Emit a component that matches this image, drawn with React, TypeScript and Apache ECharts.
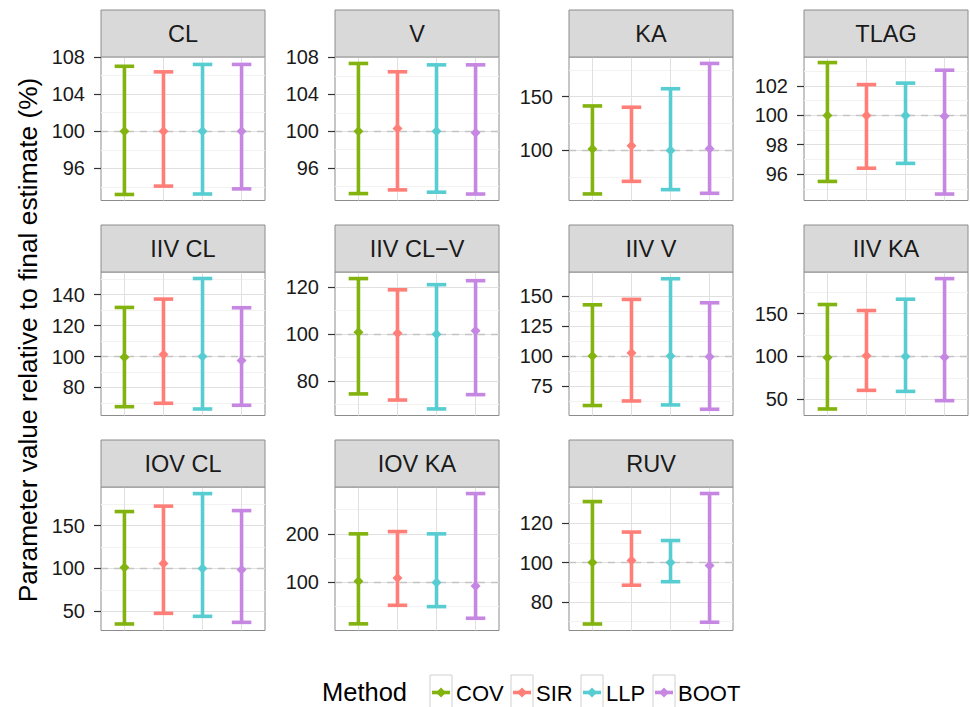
import React, { useEffect, useRef } from "react";
import * as echarts from "echarts";

const methods = ["COV", "SIR", "LLP", "BOOT"];
const methodColors = ["#82B30F", "#FF7F78", "#57CDD2", "#C687E2"];

const panels = ["CL", "V", "KA", "TLAG", "IIV CL", "IIV CL−V", "IIV V", "IIV KA", "IOV CL", "IOV KA", "RUV"];

// order within each row: COV, SIR, LLP, BOOT
const estimates = [
  [100, 100, 100, 100],
  [100, 100.3, 100, 99.85],
  [101.3, 104.4, 100, 101.6],
  [100, 100, 100, 99.95],
  [99.6, 101.3, 100, 97.4],
  [100.85, 100.4, 100, 101.4],
  [100, 102.5, 100, 99.2],
  [98.8, 100.8, 100, 99.2],
  [101.2, 105.8, 100, 98.5],
  [102.1, 109, 100, 92.6],
  [100, 101, 100, 98.5],
];
const lowers = [
  [93.2, 94.1, 93.25, 93.8],
  [93.25, 93.65, 93.4, 93.2],
  [59.6, 71.3, 63.6, 60.2],
  [95.5, 96.4, 96.73, 94.64],
  [67.6, 69.8, 66.1, 68.5],
  [74.5, 71.9, 68.1, 74.2],
  [58.7, 62.5, 59.2, 55.6],
  [38.8, 60.5, 59.3, 48.5],
  [35.3, 47.7, 44.2, 37.2],
  [14.6, 52.8, 50.1, 26.1],
  [68.8, 88.5, 90.3, 69.7],
];
const uppers = [
  [107.0, 106.4, 107.2, 107.2],
  [107.35, 106.45, 107.2, 107.2],
  [141.4, 140.2, 157.4, 180.9],
  [103.6, 102.1, 102.2, 103.08],
  [131.7, 137.1, 150.4, 131.5],
  [123.7, 118.9, 121.1, 122.8],
  [142.5, 147, 164.2, 144.2],
  [160.5, 153.5, 166.7, 190.7],
  [166.3, 172.6, 187.2, 167.4],
  [200, 204.7, 200, 283],
  [131, 115.5, 111.2, 135.1],
];

const yMins = [92.55, 92.5, 53.5, 94.2, 61.9, 65.3, 50.4, 31.2, 27.7, 0.9, 65.5];
const yMaxs = [108.0, 108.05, 186.9, 103.98, 154.6, 126.5, 169.8, 198.4, 194.9, 296.5, 138.4];
const yTicks = [
  [96, 100, 104, 108],
  [96, 100, 104, 108],
  [100, 150],
  [96, 98, 100, 102],
  [80, 100, 120, 140],
  [80, 100, 120],
  [75, 100, 125, 150],
  [50, 100, 150],
  [50, 100, 150],
  [100, 200],
  [80, 100, 120],
];
const yMinorTicks = [
  [94, 98, 102, 106],
  [94, 98, 102, 106],
  [75, 125, 175],
  [95, 97, 99, 101, 103],
  [70, 90, 110, 130, 150],
  [70, 90, 110],
  [62.5, 87.5, 112.5, 137.5],
  [75, 125, 175],
  [75, 125, 175],
  [50, 150, 250],
  [70, 90, 110, 130],
];
const xPositions = [1, 2, 3, 4];
const referenceValue = 100;

const yTitle = "Parameter value relative to final estimate (%)";
const legendTitle = "Method";

const FONT = "'Liberation Sans', Arial, Helvetica, sans-serif";
const colLefts = [101, 335, 569, 804];
const plotTops = [57, 272, 487];
const panelW = 164;
const panelH = 143.5;
const stripH = 47;
const legendBoxX = [430, 511, 581, 653];
const legendTextX = [456, 536, 606, 678];

export default function App() {
  const ref = useRef<HTMLDivElement>(null);
  useEffect(() => {
    if (!ref.current) return;
    const chart = echarts.init(ref.current, null, { renderer: "svg" });
    const grids: any[] = [];
    const xAxes: any[] = [];
    const yAxes: any[] = [];
    const series: any[] = [];
    const graphics: any[] = [];

    panels.forEach((name, i) => {
      const col = i % 4;
      const row = Math.floor(i / 4);
      const left = colLefts[col];
      const top = plotTops[row];
      grids.push({
        left,
        top,
        width: panelW,
        height: panelH,
        show: true,
        backgroundColor: "#FFFFFF",
        borderColor: "#8C8C8C",
        borderWidth: 1,
        z: 0,
      });
      xAxes.push({
        gridIndex: i,
        type: "value",
        min: 0.4,
        max: 4.6,
        axisLine: { show: false },
        axisTick: { show: false, customValues: xPositions },
        axisLabel: { show: false, customValues: xPositions },
        splitLine: { show: true, lineStyle: { color: "#E0E0E0", width: 1 } },
      });
      yAxes.push({
        gridIndex: i,
        type: "value",
        min: yMins[i],
        max: yMaxs[i],
        axisLine: { show: false },
        axisTick: {
          show: true,
          length: 7,
          customValues: yTicks[i],
          lineStyle: { color: "#333333", width: 1.2 },
        },
        axisLabel: {
          show: true,
          customValues: yTicks[i],
          margin: 16,
          fontSize: 20,
          color: "#1A1A1A",
          fontFamily: FONT,
        },
        splitLine: { show: true, lineStyle: { color: "#E0E0E0", width: 1 } },
      });
      yAxes.push({
        gridIndex: i,
        type: "value",
        position: "left",
        min: yMins[i],
        max: yMaxs[i],
        axisLine: { show: false },
        axisTick: { show: false, customValues: yMinorTicks[i] },
        axisLabel: { show: false, customValues: yMinorTicks[i] },
        splitLine: { show: true, lineStyle: { color: "#F2F2F2", width: 1 } },
      });
      const data = methods.map((m, j) => [xPositions[j], lowers[i][j], uppers[i][j], estimates[i][j], j]);
      series.push({
        type: "custom",
        name: name,
        xAxisIndex: i,
        yAxisIndex: 2 * i,
        z: 3,
        data,
        encode: { x: 0, y: [1, 2, 3] },
        renderItem: (params: any, api: any) => {
          const xv = api.value(0);
          const lo = api.value(1);
          const hi = api.value(2);
          const est = api.value(3);
          const ci = api.value(4);
          const pTop = api.coord([xv, hi]);
          const pBot = api.coord([xv, lo]);
          const pMid = api.coord([xv, est]);
          const xl = api.coord([xv - 0.25, hi])[0];
          const xr = api.coord([xv + 0.25, hi])[0];
          const color = methodColors[ci];
          const style = { stroke: color, lineWidth: 3.6, fill: null };
          const d = 5;
          return {
            type: "group",
            children: [
              { type: "line", shape: { x1: pTop[0], y1: pTop[1], x2: pBot[0], y2: pBot[1] }, style },
              { type: "line", shape: { x1: xl, y1: pTop[1], x2: xr, y2: pTop[1] }, style },
              { type: "line", shape: { x1: xl, y1: pBot[1], x2: xr, y2: pBot[1] }, style },
              {
                type: "polygon",
                shape: {
                  points: [
                    [pMid[0], pMid[1] - d],
                    [pMid[0] + d, pMid[1]],
                    [pMid[0], pMid[1] + d],
                    [pMid[0] - d, pMid[1]],
                  ],
                },
                style: { fill: color, stroke: null },
              },
            ],
          };
        },
        markLine: {
          silent: true,
          symbol: "none",
          z: 1,
          label: { show: false },
          lineStyle: { type: [7, 6], color: "#C4C4C4", width: 1.4 },
          data: [{ yAxis: referenceValue }],
          animation: false,
        },
      });
      graphics.push({
        type: "rect",
        shape: { x: left, y: top - stripH, width: panelW, height: stripH },
        style: { fill: "#D9D9D9", stroke: "#8C8C8C", lineWidth: 1 },
        z: 10,
      });
      graphics.push({
        type: "text",
        x: left + panelW / 2,
        y: top - stripH / 2,
        z: 11,
        style: {
          text: name,
          font: `23.5px ${FONT}`,
          fill: "#1A1A1A",
          textAlign: "center",
          textVerticalAlign: "middle",
        },
      });
    });

    graphics.push({
      type: "text",
      x: 28,
      y: 340,
      rotation: Math.PI / 2,
      style: {
        text: yTitle,
        font: `26.3px ${FONT}`,
        fill: "#000000",
        textAlign: "center",
        textVerticalAlign: "middle",
      },
    });
    graphics.push({
      type: "text",
      x: 322,
      y: 692,
      style: {
        text: legendTitle,
        font: `25.5px ${FONT}`,
        fill: "#000000",
        textAlign: "left",
        textVerticalAlign: "middle",
      },
    });
    methods.forEach((m, j) => {
      const bx = legendBoxX[j];
      graphics.push({
        type: "rect",
        shape: { x: bx, y: 675, width: 22, height: 40 },
        style: { fill: "#FFFFFF", stroke: "#D0D0D0", lineWidth: 1 },
      });
      graphics.push({
        type: "line",
        shape: { x1: bx + 2, y1: 692.5, x2: bx + 20, y2: 692.5 },
        style: { stroke: methodColors[j], lineWidth: 3.6 },
      });
      graphics.push({
        type: "polygon",
        shape: {
          points: [
            [bx + 11, 687.5],
            [bx + 16, 692.5],
            [bx + 11, 697.5],
            [bx + 6, 692.5],
          ],
        },
        style: { fill: methodColors[j] },
      });
      graphics.push({
        type: "text",
        x: legendTextX[j],
        y: 693,
        style: {
          text: m,
          font: `22px ${FONT}`,
          fill: "#000000",
          textAlign: "left",
          textVerticalAlign: "middle",
        },
      });
    });

    chart.setOption({
      animation: false,
      backgroundColor: "#FFFFFF",
      grid: grids,
      xAxis: xAxes,
      yAxis: yAxes,
      series,
      graphic: graphics,
    });
    return () => chart.dispose();
  }, []);
  return (
    <div
      ref={ref}
      style={{ position: "fixed", left: 0, top: 0, width: 970, height: 707 }}
    />
  );
}
